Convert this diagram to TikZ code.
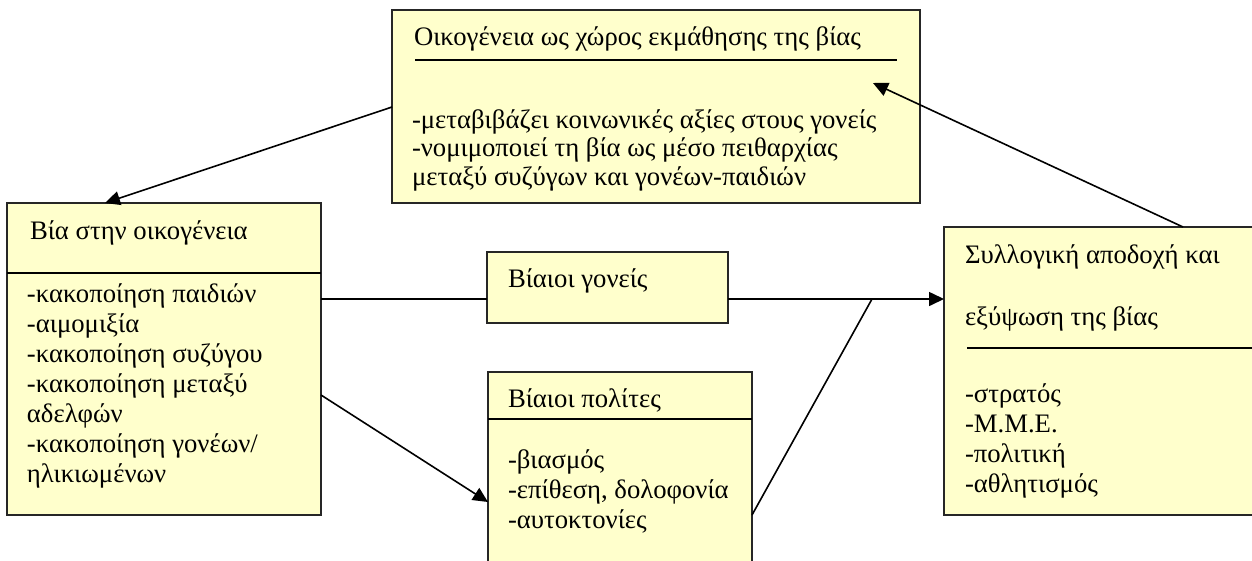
\documentclass[tikz,border=0pt]{standalone}
\usepackage{fontspec}
\setmainfont{Liberation Serif}
\usetikzlibrary{arrows.meta}
\definecolor{boxfill}{HTML}{FFFFCC}
\newcommand\mylines[2]{\vtop{\baselineskip=#1\relax\lineskiplimit=-100pt\halign{##\hfil\cr #2\crcr}}}
\tikzset{
  box/.style={draw=black!85, line width=1.5pt, fill=boxfill, rectangle, anchor=north west, inner sep=0pt, outer sep=0pt},
  txt/.style={anchor=base west, inner sep=0pt, outer sep=0pt, font=\fontsize{26.7}{30}\selectfont},
  conn/.style={draw=black, line width=1.6pt},
  arr/.style={conn, -{Triangle[length=15pt,width=14pt]}},
  rule/.style={draw=black, line width=1.5pt}
}
\begin{document}
\begin{tikzpicture}[x=1pt,y=-1pt]
\clip (0,0) rectangle (1252,560);
\fill[white] (0,0) rectangle (1252,560);
% boxes
\node[box, minimum width=528pt, minimum height=193pt] (fam) at (392,10) {};
\node[box, minimum width=314pt, minimum height=312pt] (viol) at (7,203) {};
\node[box, minimum width=241pt, minimum height=71pt] (par) at (487,252) {};
\node[box, minimum width=264pt, minimum height=240pt] (cit) at (488,372) {};
\node[box, minimum width=400pt, minimum height=288pt] (soc) at (944,227) {};
% dividers
\coordinate (violdL) at (7,273); \coordinate (violdR) at (321,273);
\draw[rule] (violdL) -- (violdR);
\coordinate (citdL) at (488,419); \coordinate (citdR) at (752,419);
\draw[rule] (citdL) -- (citdR);
\coordinate (famuL) at (415,60); \coordinate (famuR) at (897,60);
\draw[rule] (famuL) -- (famuR);
\coordinate (socdL) at (967,348); \coordinate (socdR) at (1300,348);
\draw[rule] (socdL) -- (socdR);
% texts
\node[txt] (famT) at (414,45) {Οικογένεια ως χώρος εκμάθησης της βίας};
\node[txt] (famB) at (412,128) {\mylines{28.5pt}{-μεταβιβάζει κοινωνικές αξίες στους γονείς\cr -νομιμοποιεί τη βία ως μέσο πειθαρχίας\cr μεταξύ συζύγων και γονέων-παιδιών}};
\node[txt] (violT) at (30,239) {Βία στην οικογένεια};
\node[txt] (violB) at (27,302) {\mylines{30pt}{-κακοποίηση παιδιών\cr -αιμομιξία\cr -κακοποίηση συζύγου\cr -κακοποίηση μεταξύ\cr αδελφών\cr -κακοποίηση γονέων/\cr ηλικιωμένων}};
\node[txt] (parT) at (508,287) {Βίαιοι γονείς};
\node[txt] (citT) at (508,407) {Βίαιοι πολίτες};
\node[txt] (citB) at (508,468) {\mylines{30pt}{-βιασμός\cr -επίθεση, δολοφονία\cr -αυτοκτονίες}};
\node[txt] (socT1) at (965,263) {Συλλογική αποδοχή και};
\node[txt] (socT2) at (965,325) {εξύψωση της βίας};
\node[txt] (socB) at (965,402) {\mylines{30pt}{-στρατός\cr -Μ.Μ.Ε.\cr -πολιτική\cr -αθλητισμός}};
% connector points
\coordinate (famW) at (392,107);
\coordinate (violN) at (105,203);
\coordinate (socN) at (1183,227);
\coordinate (famIn) at (873,83);
\coordinate (violE1) at (321,299);
\coordinate (parW) at (487,299);
\coordinate (parE) at (728,299);
\coordinate (join) at (872,299);
\coordinate (socW) at (944,299);
\coordinate (violE2) at (321,395);
\coordinate (citW) at (488,502);
\coordinate (citE) at (752,515);
% connectors
\draw[arr] (famW) -- (violN);
\draw[arr] (socN) -- (famIn);
\draw[conn] (violE1) -- (parW);
\draw[arr] (parE) -- (socW);
\draw[arr] (violE2) -- (citW);
\draw[conn] (citE) -- (join);
\end{tikzpicture}
\end{document}
